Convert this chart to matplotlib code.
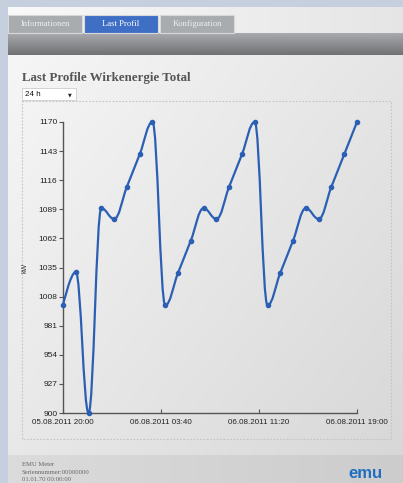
import numpy as np
import matplotlib
matplotlib.use("Agg")
import matplotlib.pyplot as plt
from matplotlib.patches import Rectangle
from matplotlib.path import Path
from matplotlib.patches import PathPatch

# ---- data ----
hours = list(range(24))  # hourly points from 05.08.2011 20:00
values = [1000, 1031, 900, 1090, 1080, 1110, 1140, 1170,
          1000, 1030, 1060, 1090, 1080, 1110, 1140, 1170,
          1000, 1030, 1060, 1090, 1080, 1110, 1140, 1170]
y_ticks = [900, 927, 954, 981, 1008, 1035, 1062, 1089, 1116, 1143, 1170]
x_tick_pos = [0, 23 / 3, 46 / 3, 23]
x_tick_labels = ["05.08.2011 20:00", "06.08.2011 03:40", "06.08.2011 11:20", "06.08.2011 19:00"]
title = "Last Profile Wirkenergie Total"
tabs = ["Informationen", "Last Profil", "Konfiguration"]

W, H = 403, 483
fig = plt.figure(figsize=(W / 100, H / 100), dpi=100)

# ---- background page ----
bg = fig.add_axes([0, 0, 1, 1])
bg.set_xlim(0, W)
bg.set_ylim(H, 0)
bg.axis("off")
bg.add_patch(Rectangle((0, 0), W, H, color="#c6cfdd", zorder=0))
# content gradient
gx = np.linspace(0, 1, 200)
gy = np.linspace(0, 1, 200)
GX, GY = np.meshgrid(gx, gy)
g = 0.965 - 0.12 * (0.55 * GX + 0.45 * GY)
bg.imshow(np.dstack([g, g, g]), extent=(8, W, 455, 55), aspect="auto", zorder=1)
# tab bar
tb = np.linspace(0.975, 0.90, 200)[None, :]
bg.imshow(np.dstack([tb, tb, tb]), extent=(8, W, 33, 7), aspect="auto", zorder=1)
# dark band
db = np.linspace(0.66, 0.44, 50)[:, None] * np.ones((1, 10))
bg.imshow(np.dstack([db, db * 1.01, db * 1.03]).clip(0, 1), extent=(8, W, 55, 33), aspect="auto", zorder=1)
# footer
fb = np.linspace(0.86, 0.80, 200)[None, :]
bg.imshow(np.dstack([fb, fb, fb]), extent=(8, W, H, 455), aspect="auto", zorder=1)
bg.set_xlim(0, W)
bg.set_ylim(H, 0)

# tabs
tab_x = [8, 84, 160]
tab_col = ["#a9acae", "#3f6fc4", "#a9acae"]
tab_txt = ["#eeeeee", "white", "#eeeeee"]
for t, x0, c, tc in zip(tabs, tab_x, tab_col, tab_txt):
    bg.add_patch(Rectangle((x0, 15), 74, 18, facecolor=c, edgecolor="#d8d8d8", lw=0.8, zorder=2))
    bg.text(x0 + 37, 24.5, t, ha="center", va="center", color=tc,
            fontsize=6.2, family="Liberation Serif", zorder=3)

# title and dropdown
bg.text(22, 78, title, ha="left", va="center", fontsize=9.3, weight="bold",
        family="Liberation Serif", color="#555555", zorder=3)
bg.add_patch(Rectangle((22, 88), 54, 12, facecolor="white", edgecolor="#cccccc", lw=0.6, zorder=2))
bg.text(25, 94.5, "24 h", ha="left", va="center", fontsize=5.8, family="Liberation Sans", color="#111111", zorder=3)
bg.text(70, 94.5, "▼", ha="center", va="center", fontsize=3.5, color="#222222", zorder=3)

# dotted chart border
bg.add_patch(Rectangle((22, 101), 369, 338, facecolor="none", edgecolor="#c4c4c4",
                       lw=0.8, linestyle=(0, (1.5, 1.5)), zorder=2))

# footer text
bg.text(22, 464, "EMU Meter", fontsize=4.8, family="Liberation Serif", color="#666666", va="center", zorder=3)
bg.text(22, 472, "Seriennummer:00000000", fontsize=4.8, family="Liberation Serif", color="#666666", va="center", zorder=3)
bg.text(22, 479.5, "01.01.70 00:00:00", fontsize=4.8, family="Liberation Serif", color="#666666", va="center", zorder=3)
bg.text(365, 473, "emu", fontsize=12, weight="bold", family="Liberation Sans", color="#1f6fc0",
        ha="center", va="center", zorder=3)

# ---- chart ----
ax = fig.add_axes([63 / W, 1 - 413 / H, 294 / W, 291 / H])
ax.set_facecolor("none")


def spline_path(xs, ys, smoothing=1.5):
    n = len(xs)
    denom = smoothing + 1
    right = [None] * n
    verts = [(xs[0], ys[0])]
    codes = [Path.MOVETO]
    for i in range(1, n):
        px, py = xs[i], ys[i]
        lcx, lcy = px, py
        if i < n - 1:
            lx, ly = xs[i - 1], ys[i - 1]
            nx, ny = xs[i + 1], ys[i + 1]
            lcx = (smoothing * px + lx) / denom
            lcy = (smoothing * py + ly) / denom
            rcx = (smoothing * px + nx) / denom
            rcy = (smoothing * py + ny) / denom
            corr = 0
            if rcx != lcx:
                corr = ((rcy - lcy) * (rcx - px)) / (rcx - lcx) + py - rcy
            lcy += corr
            rcy += corr
            if lcy > ly and lcy > py:
                lcy = max(ly, py)
                rcy = 2 * py - lcy
            elif lcy < ly and lcy < py:
                lcy = min(ly, py)
                rcy = 2 * py - lcy
            if rcy > ny and rcy > py:
                rcy = max(ny, py)
                lcy = 2 * py - rcy
            elif rcy < ny and rcy < py:
                rcy = min(ny, py)
                lcy = 2 * py - rcy
            right[i] = (rcx, rcy)
        prev = right[i - 1] if right[i - 1] is not None else (xs[i - 1], ys[i - 1])
        verts += [prev, (lcx, lcy), (px, py)]
        codes += [Path.CURVE4] * 3
    return Path(verts, codes)


path = spline_path(hours, values)
ax.add_patch(PathPatch(path, facecolor="none", edgecolor="#2b5fb4", lw=1.6, zorder=3,
                       clip_on=False, capstyle="round", joinstyle="round"))
ax.plot(hours, values, linestyle="none", marker="o", ms=3.0, color="#2b5fb4", zorder=4, clip_on=False)

ax.set_xlim(0, 23)
ax.set_ylim(900, 1170)
ax.set_yticks(y_ticks)
ax.set_yticklabels([str(v) for v in y_ticks])
ax.set_xticks(x_tick_pos)
ax.set_xticklabels(x_tick_labels)
for s in ["top", "right"]:
    ax.spines[s].set_visible(False)
for s in ["left", "bottom"]:
    ax.spines[s].set_color("#555555")
    ax.spines[s].set_linewidth(1.0)
ax.tick_params(axis="y", direction="out", length=3, width=0.8, color="#555555",
               labelsize=6.0, labelcolor="#222222", pad=1)
ax.tick_params(axis="x", direction="in", length=3, width=0.8, color="#555555",
               labelsize=5.8, labelcolor="#222222", pad=4.5)
for lab in ax.get_xticklabels() + ax.get_yticklabels():
    lab.set_family("Liberation Sans")
ax.set_ylabel("kW", fontsize=5, family="Liberation Sans", color="#333333", labelpad=7)

fig.savefig("out.png", dpi=100)
